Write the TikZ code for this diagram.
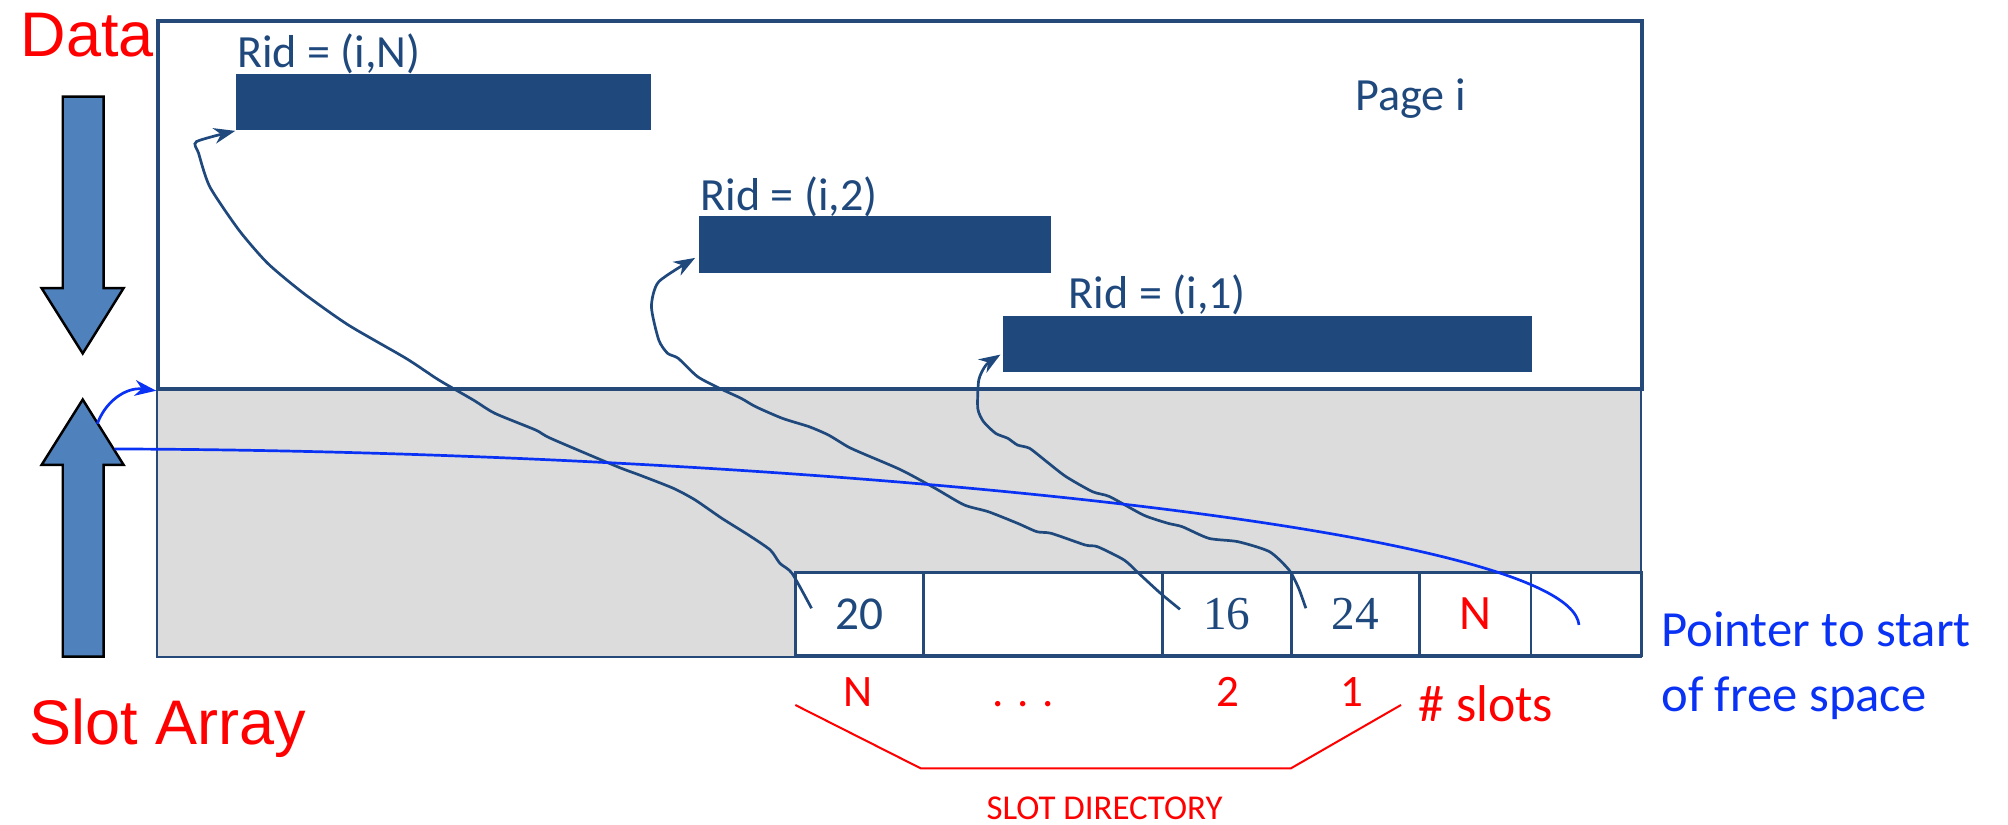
\documentclass[tikz,border=0pt]{standalone}
\usepackage{fontspec}
\usepackage{xcolor}
\usetikzlibrary{arrows.meta, calc}
\newfontfamily\calibri{Carlito}
\newfontfamily\arial{Liberation Sans}
\newfontfamily\cambria{Liberation Serif}
\definecolor{darkblue}{RGB}{31,73,125}
\definecolor{pageblue}{RGB}{37,74,122}
\definecolor{arrowblue}{RGB}{79,129,189}
\definecolor{grayfill}{RGB}{220,220,220}
\definecolor{ptrblue}{RGB}{10,50,245}

\begin{document}
\begin{tikzpicture}[x=0.02cm, y=-0.02cm, >={Stealth[length=9.5pt, width=7pt, inset=3pt]},
        block/.style={
            % The filling and the border
            fill=arrowblue, draw=black, line width=1.1pt, line join=miter},
        slot/.style={
            rectangle, draw=pageblue, line width=1.3pt, fill=white,
            inner sep=0, minimum height=1.3cm,
            font=\fontsize{21}{24}\selectfont, text=darkblue},
        bar/.style={rectangle, fill=darkblue, inner sep=0, anchor=north west},
        rid/.style={font=\calibri\fontsize{20.5}{24}\selectfont, text=darkblue, anchor=base west, inner sep=0},
        big/.style={font=\arial\fontsize{28}{32}\selectfont, text=red, anchor=base west, inner sep=0},
        lbl/.style={font=\calibri\fontsize{20}{24}\selectfont, text=red, anchor=base, inner sep=0},
        blu/.style={font=\calibri\fontsize{22.5}{26}\selectfont, text=ptrblue, anchor=base west, inner sep=0},
        ptr/.style={->, draw=darkblue, line width=1.2pt},
        pointer/.style={draw=ptrblue, line width=1.2pt}]
        \useasboundingbox (0,0) rectangle (1568,644);

        % page and slot area
        \node[rectangle, draw=pageblue, fill=grayfill, line width=1pt, inner sep=0, anchor=north west,
              minimum width=23.18cm, minimum height=4.2cm] (free) at (122,302) {};
        \node[rectangle, draw=pageblue, line width=1.8pt, inner sep=0, anchor=north west,
              minimum width=23.18cm, minimum height=5.74cm] (page) at (122,15) {};

        \foreach \l/\r/\n/\t in {621.5/721/s20/{\calibri 20}, 721/907.5/sdots/{}, 907.5/1008.5/s16/{\cambria 16},
                                 1008.5/1108.5/s24/{\cambria 24}, 1108.5/1195.5/sN/{\calibri\color{red}\fontsize{22}{26}\selectfont N},
                                 1195.5/1281.5/sfree/{}}{
          \node[slot, minimum width={(\r-\l)*0.5691pt}] (\n) at ({(\l+\r)/2},479.5) {\t};
        }

        % records
        \node[bar, minimum width=6.492cm, minimum height=0.884cm] (barN) at (183.7,57.3) {};
        \node[bar, minimum width=5.488cm, minimum height=0.886cm] (bar2) at (545.8,168.4) {};
        \node[bar, minimum width=8.256cm, minimum height=0.874cm] (bar1) at (783.2,246.5) {};

        \node[rid] (ridN) at (184.8,53) {Rid = (i,N)};
        \node[rid] (rid2) at (546.6,164) {Rid = (i,2)};
        \node[rid] (rid1) at (834.3,240.8) {Rid = (i,1)};
        \node[rid] (pagei) at (1058,86) {Page i};

        % block arrows
        \foreach \ya/\yb/\yc in {75.5/225/276, 512.8/363/312}{
          \draw[block] (49,\ya) -- (81,\ya) -- (81,\yb) -- (96.5,\yb) -- (64.6,\yc) -- (32.5,\yb) -- (49,\yb) -- cycle;
        }
        \node[big] (data) at (16,44.3) {Data};
        \node[big] (slotarray) at (23,581) {Slot Array};

        % slot pointers
        \coordinate (c20) at (633.7,475);
        \coordinate (c16) at (921.4,475.8);
        \coordinate (c24) at (1019.7,475);
        \draw[ptr] plot[smooth, tension=0.4] coordinates {(c20) (618.5,447.7) (609,439.9) (601.5,429.5)
          (584.5,417.8) (563.6,404.7) (542.8,390.4) (525.8,381.3) (499.3,370.9) (482,364.4) (430,342.3)
          (418.3,335.8) (386.5,322.8) (369.5,312.3) (342.6,296.7) (317,279.8) (272,253.8) (237,229)
          (209,205.6) (186.5,179.6) (163.8,145.8) (155.1,119.7) (153.4,110.6) (barN.south west)};
        \draw[ptr] plot[smooth, tension=0.4] coordinates {(c16) (906.2,463.3) (889.2,447.7) (877.8,437.3)
          (857,426.9) (847.5,425.6) (821,416.5) (809.7,415.2) (794.5,408.6) (771.8,399.6) (752.9,394.3)
          (730.2,381.3) (703.7,367) (673.4,354) (662,348.8) (646.9,339.7) (631.8,333.2) (611,326.7)
          (590.1,317.6) (578.8,311.1) (561.8,303.2) (544.7,294.1) (529.6,279.8) (521.3,275.9)
          (514.4,265.5) (508.7,239.5) (514.4,220) ($(bar2.south west)+(-3,-12)$)};
        \draw[ptr] plot[smooth, tension=0.4] coordinates {(c24) (1014.1,459.4) (1006.6,445.1) (991.3,430.8)
          (966.7,423) (944,420.4) (923.2,411.3) (911.9,408.6) (892.9,402.2) (866.5,387.8) (853.2,384)
          (832.4,372.2) (817.3,360.5) (804,350.1) (794.5,347.5) (787,342.3) (777.5,338.4) (768,329.3)
          (763.5,318.9) (764.3,296.7) (770,285) ($(bar1.south west)+(-2,-14)$)};

        % free space pointer
        \coordinate (upa) at (76,331);
        \coordinate (upb) at (89.6,350.6);
        \coordinate (fp) at (1233,488);
        \draw[pointer, ->] (upa) .. controls (82,314) and (98,302) .. (page.south west);
        \draw[pointer] (upb) .. controls (600,352) and (1225,410) .. (fp);

        % slot directory
        \node[lbl] (lN) at (670,551.8) {N};
        \node[lbl] (ldots) at (799,551.8) {. . .};
        \node[lbl] (l2) at (959,551.8) {2};
        \node[lbl] (l1) at (1055.5,551.8) {1};
        \node[lbl, anchor=base west, font=\calibri\fontsize{23}{27}\selectfont] (nslots) at (1107.5,563.5) {\# slots};
        \draw[red, line width=0.9pt] (621,550.5) -- (719,600) -- (1008,600) -- (1094,550.5);
        \node[lbl, font=\calibri\fontsize{15.5}{18}\selectfont] (slotdir) at (862.5,640.3) {SLOT DIRECTORY};

        \node[blu] (ptrtxt1) at (1297,505) {Pointer to start};
        \node[blu] (ptrtxt2) at (1297,555.7) {of free space};
\end{tikzpicture}
\end{document}
